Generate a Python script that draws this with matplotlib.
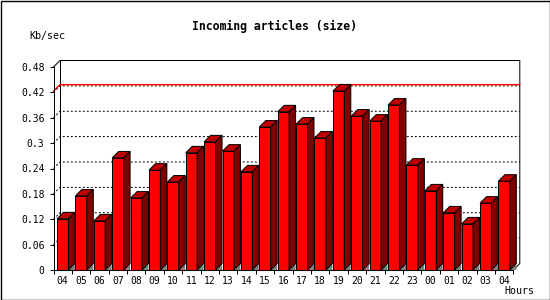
import numpy as np
import matplotlib
matplotlib.use("Agg")
import matplotlib.pyplot as plt
from matplotlib.patches import Polygon, Rectangle

# --- data ---
hours = ['04', '05', '06', '07', '08', '09', '10', '11', '12', '13', '14', '15', '16',
         '17', '18', '19', '20', '21', '22', '23', '00', '01', '02', '03', '04']
kb_sec = [0.121, 0.175, 0.116, 0.265, 0.170, 0.236, 0.208, 0.277, 0.303, 0.281,
          0.232, 0.338, 0.374, 0.345, 0.312, 0.423, 0.364, 0.352, 0.390, 0.248,
          0.187, 0.135, 0.109, 0.158, 0.210]
y_ticks = [0, 0.06, 0.12, 0.18, 0.24, 0.3, 0.36, 0.42, 0.48]

plt.rcParams['font.family'] = ['DejaVu Sans Mono']

W, H = 550, 300
fig = plt.figure(figsize=(W / 100, H / 100), dpi=100)
left, right, bottom, top = 53.5, 513.3, 270, 67
ax = fig.add_axes([left / W, (H - bottom) / H, (right - left) / W, (bottom - top) / H])

n = len(hours)
x0, x1 = -0.5, n - 0.5
ymax = 0.48
ax.set_xlim(x0, x1)
ax.set_ylim(0, ymax)

# 3d depth in data units (6.5 px both ways)
ddx = 6.5 * (x1 - x0) / (right - left)
ddy = 6.5 * ymax / (bottom - top)
lw = 0.72

# back wall
ax.plot([x0, x0 + ddx, x1 + ddx, x1 + ddx, x1],
        [ymax, ymax + ddy, ymax + ddy, ddy, 0],
        color='black', lw=lw, clip_on=False, zorder=1)
ax.plot([x0 + ddx, x0 + ddx], [ddy, ymax + ddy], color='black', lw=lw, clip_on=False, zorder=1)

# dotted grid on the back wall
for y in y_ticks[1:-1]:
    ax.plot([x0, x0 + ddx, x1 + ddx], [y, y + ddy, y + ddy], color='black', lw=lw,
            dashes=(2, 2), clip_on=False, zorder=1)

# max line
vmax = max(kb_sec)
ax.plot([x0, x0 + ddx, x1 + ddx], [vmax, vmax + ddy, vmax + ddy], color='#ff0000',
        lw=1.0, clip_on=False, zorder=2)

# 3d bars
w = 0.62
for i, v in enumerate(kb_sec):
    a, b = i - w / 2, i + w / 2
    # floor shadow
    ax.add_patch(Polygon([(b, 0), (b + ddx, ddy), (b + ddx, 0)], closed=True,
                         facecolor='#808080', edgecolor='none', clip_on=False, zorder=3))
    faces = [
        ([(a, 0), (b, 0), (b, v), (a, v)], '#ff0000'),
        ([(a, v), (b, v), (b + ddx, v + ddy), (a + ddx, v + ddy)], '#c00000'),
        ([(b, 0), (b + ddx, ddy), (b + ddx, v + ddy), (b, v)], '#800000'),
    ]
    for pts, c in faces:
        ax.add_patch(Polygon(pts, closed=True, facecolor=c, edgecolor='black',
                             lw=lw, clip_on=False, zorder=3))

# axes
for s in ['top', 'right']:
    ax.spines[s].set_visible(False)
for s in ['left', 'bottom']:
    ax.spines[s].set_linewidth(lw)
    ax.spines[s].set_zorder(4)

ax.set_yticks(y_ticks)
ax.set_yticklabels([f"{v:g}" for v in y_ticks])
ax.tick_params(axis='y', direction='out', length=3, width=lw, pad=3.5, labelsize=7)
ax.set_xticks(np.arange(n))
ax.set_xticklabels(hours)
ax.set_xticks(np.arange(n + 1) - 0.5, minor=True)
ax.tick_params(axis='x', which='major', length=0, pad=4, labelsize=7)
ax.tick_params(axis='x', which='minor', direction='out', length=2.8, width=lw)

fig.text(274 / W, 1 - 26.5 / H, "Incoming articles (size)", ha='center', va='center',
         fontsize=8.3, fontweight='bold')
fig.text(29.5 / W, 1 - 36.5 / H, "Kb/sec", ha='left', va='center', fontsize=7.2)
fig.text(504 / W, 1 - 291.5 / H, "Hours", ha='left', va='center', fontsize=7.2)

# outer frame
fig.patches.append(Rectangle((0.5 / W, 0.5 / H), 1 - 1 / W, 1 - 1 / H, transform=fig.transFigure,
                             fill=False, edgecolor='black', lw=1.0))

fig.savefig("out.png", dpi=100)
